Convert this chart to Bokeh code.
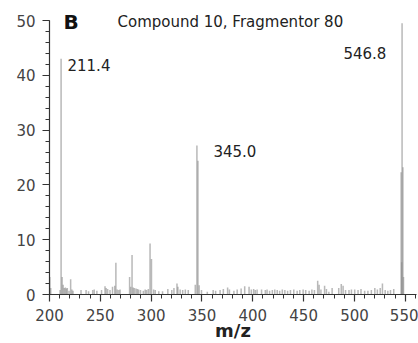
from bokeh.plotting import figure
from bokeh.models import ColumnDataSource, FixedTicker, Label, Range1d
from bokeh.embed import file_html
from bokeh.resources import INLINE

# ---- data (m/z, relative intensity) ----
mz = [200.3, 201.2, 210.4, 211.4, 212.4, 213.4, 214.5, 215.6, 216.6, 217.5,
      219.2, 220.8, 222.0, 223.1, 231.0, 236.0, 238.4, 242.5, 244.0, 246.6,
      251.2, 254.6, 255.7, 257.2, 259.5, 262.0, 264.2, 265.3, 266.6, 268.2,
      269.4, 278.8, 279.9, 281.2, 282.3, 283.5, 285.1, 286.4, 287.6, 289.5,
      292.3, 294.1, 295.5, 297.2, 298.9, 300.3, 302.4, 304.0, 307.5, 311.2,
      316.4, 320.3, 322.4, 325.4, 326.3, 328.5, 331.0, 333.6, 336.5, 343.4,
      345.0, 346.0, 347.2, 349.5, 355.2, 361.0, 363.4, 367.8, 371.0, 375.2,
      377.0, 381.4, 384.6, 388.5, 392.0, 396.3, 398.5, 400.8, 402.4, 404.2,
      408.6, 412.3, 414.0, 416.5, 419.2, 421.6, 424.0, 426.4, 429.0, 431.5,
      434.2, 437.0, 440.3, 443.6, 446.2, 449.5, 452.0, 455.4, 458.1, 460.6,
      463.8, 465.2, 467.0, 470.6, 472.4, 474.8, 478.0, 484.5, 487.0, 488.8,
      491.2, 494.6, 497.0, 500.2, 503.5, 506.4, 510.0, 513.2, 516.6, 520.0,
      522.5, 525.3, 527.5, 530.2, 532.8, 535.4, 538.6, 545.9, 546.4, 546.8,
      547.6, 548.2]
intensity = [3.2, 1.2, 0.8, 43.0, 3.2, 1.8, 1.2, 1.3, 1.1, 1.2,
             0.7, 2.8, 0.9, 0.7, 0.8, 0.8, 0.6, 0.8, 0.9, 0.7,
             0.8, 1.5, 1.2, 1.0, 0.8, 1.4, 1.6, 5.8, 0.9, 0.8,
             0.9, 3.2, 1.4, 7.2, 1.3, 1.2, 1.1, 1.0, 0.9, 0.8,
             0.7, 0.9, 0.8, 1.0, 9.3, 6.5, 0.9, 0.8, 0.6, 0.6,
             1.0, 0.8, 1.2, 2.0, 1.4, 0.9, 0.8, 0.9, 0.8, 1.8,
             27.2, 24.4, 1.7, 0.8, 0.5, 0.8, 0.7, 0.8, 1.0, 1.3,
             0.9, 0.7, 0.9, 1.1, 1.5, 1.4, 0.9, 1.0, 0.8, 0.9,
             0.9, 0.8, 0.9, 0.7, 0.8, 0.9, 0.8, 0.7, 0.9, 0.8,
             0.7, 0.8, 0.9, 0.7, 0.8, 0.9, 0.8, 0.7, 0.9, 0.8,
             2.5, 1.8, 0.9, 1.6, 1.0, 0.5, 1.2, 1.2, 1.9, 1.6,
             0.8, 0.8, 0.9, 0.9, 0.8, 1.0, 0.7, 0.7, 0.8, 1.2,
             0.9, 1.2, 2.0, 0.8, 0.7, 0.8, 1.0, 22.3, 5.9, 49.5,
             23.2, 3.2]

peak_labels = ["211.4", "345.0", "546.8"]
x_ticks = [200, 250, 300, 350, 400, 450, 500, 550]
y_ticks = [0, 10, 20, 30, 40, 50]
title_text = "Compound 10, Fragmentor 80"
panel_letter = "B"
x_label = "m/z"

FONT = "DejaVu Sans"
PX_PER_UNIT_Y = 5.48

src = ColumnDataSource(dict(mz=mz, inten=intensity))

p = figure(width=418, height=343, output_backend="svg", toolbar_location=None,
           x_range=Range1d(200, 561),
           y_range=Range1d(0, 50 + 20 / PX_PER_UNIT_Y),
           min_border_left=49, min_border_right=2, min_border_top=0,
           min_border_bottom=49)
p.outline_line_color = None
p.xgrid.visible = False
p.ygrid.visible = False
p.background_fill_color = "white"
p.border_fill_color = "white"

p.vbar(x="mz", top="inten", bottom=0, width=1.5, source=src,
       fill_color="#8a8a8a", line_color=None, fill_alpha=0.6)

for ax in (p.xaxis[0], p.yaxis[0]):
    ax.axis_line_color = "#333333"
    ax.axis_line_width = 1.2
    ax.major_tick_line_color = "#333333"
    ax.minor_tick_line_color = "#333333"
    ax.major_tick_line_width = 1.2
    ax.minor_tick_line_width = 1.0
    ax.major_label_text_font = FONT
    ax.major_label_text_font_size = "15px"
    ax.major_label_text_color = "#444444"
    ax.major_tick_in = 0
    ax.minor_tick_in = 0
    ax.major_tick_out = 7
    ax.minor_tick_out = 4

p.yaxis.bounds = (0, 50)
p.xaxis.ticker = FixedTicker(ticks=x_ticks,
                             minor_ticks=[v for v in range(200, 561, 10)])
p.yaxis.ticker = FixedTicker(ticks=y_ticks,
                             minor_ticks=[v for v in range(0, 51, 2)])
p.xaxis.major_label_standoff = 7
p.yaxis.major_label_standoff = 7

p.xaxis.axis_label = x_label
p.xaxis.axis_label_text_font = FONT
p.xaxis.axis_label_text_font_size = "18px"
p.xaxis.axis_label_text_font_style = "bold"
p.xaxis.axis_label_text_color = "#222222"
p.xaxis.axis_label_standoff = -4

def px_to_x(px):
    return 200 + (px - 49) / 1.017

def py_to_y(py):
    # baseline correction of 7 px found in an earlier render
    return (294 - (py - 7)) / PX_PER_UNIT_Y

def add_label(text, px, py, size, bold=False, align="left", color="#222222"):
    p.add_layout(Label(x=px_to_x(px), y=py_to_y(py), text=text,
                       text_font=FONT, text_font_size=size,
                       text_font_style="bold" if bold else "normal",
                       text_align=align, text_baseline="alphabetic",
                       text_color=color))

add_label(panel_letter, 63, 28, "20px", bold=True, color="#111111")
add_label(title_text, 117, 28, "15px", color="#222222")
add_label(peak_labels[0], 67, 71, "15px")
add_label(peak_labels[1], 213, 157, "15px")
add_label(peak_labels[2], 343, 59, "15px")

open("out.html", "w").write(file_html(p, INLINE))
